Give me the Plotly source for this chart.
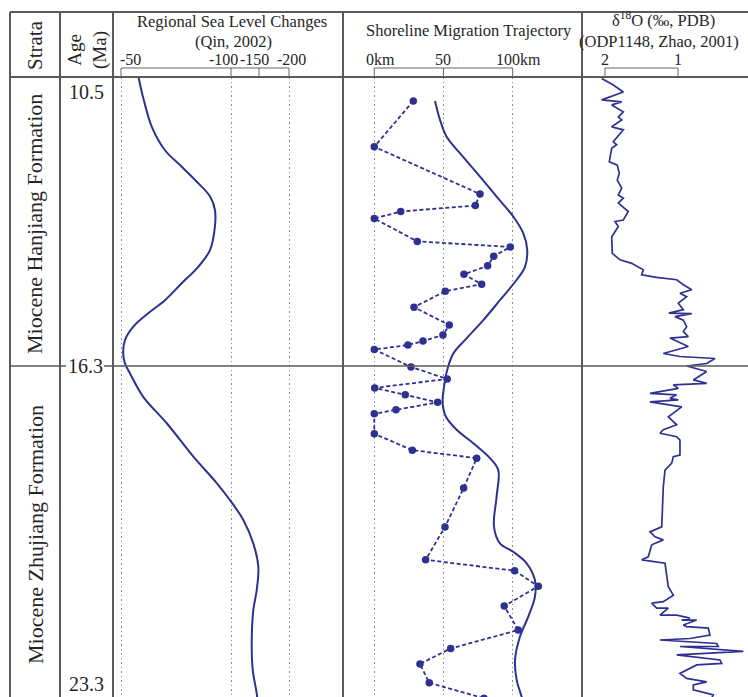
import numpy as np
import plotly.graph_objects as go

W, H = 748, 697
BLUE = "#2e3192"
FRAME = "#5a5a5a"
TXT = "#262626"
FONT = "Liberation Serif, Times New Roman, serif"

# ---------------- data ----------------
# Regional sea level (m) vs age (Ma)
sea_age = [10.51, 10.90, 11.50, 11.97, 12.30, 12.63, 12.90, 13.17, 13.50, 13.97, 14.31,
           14.64, 14.98, 15.24, 15.51, 15.78, 16.05, 16.25, 16.45, 16.92, 17.45, 18.12,
           18.65, 18.99, 19.39, 19.86, 20.33, 20.80, 21.20, 21.87, 22.40, 22.87, 23.10]
sea_level = [-58, -60, -64, -70, -77.6, -85.1, -90.5, -92.7, -92.7, -90.5, -85.1,
             -77.6, -70, -62.4, -55.6, -51.8, -51.0, -51.8, -54.1, -60.1, -70.8, -82.9,
             -93.5, -99.5, -122, -139.8, -148.8, -145.9, -139.8, -137.0, -138.8, -145.9, -148]
# non-linear sea-level axis: tick values and their relative positions
sl_ticks = [-50, -100, -150, -200]
sl_tick_pos = [0, 110, 138, 168]

# Shoreline migration trajectory (km) vs age
shore_age = [10.98, 11.90, 12.85, 13.08, 13.20, 13.34, 13.80, 13.91, 14.10, 14.29,
             14.46, 14.66, 14.80, 15.12, 15.48, 15.68, 15.80, 15.88, 15.97, 16.32,
             16.56, 16.74, 16.88, 17.03, 17.18, 17.26, 17.66, 17.99, 18.15, 18.75,
             19.53, 20.19, 20.41, 20.72, 21.12, 21.60, 21.97, 22.28, 22.66, 22.97]
shore_km = [28.2, 0, 76.4, 73.0, 19.1, 0, 31.1, 98.3, 86.3, 81.9,
            64.8, 77.6, 51.3, 28.7, 54.2, 49.6, 35.2, 24.3, 0, 26.5,
            52.7, 0.3, 22.4, 45.8, 15.7, 0, 0, 27.5, 74.0, 64.6,
            51.1, 37.1, 101.4, 118.5, 93.9, 104.0, 55.2, 33.0, 39.7, 79.3]
trend_age = [10.98, 11.36, 11.70, 12.03, 12.50, 12.90, 13.30, 13.64, 13.97, 14.31,
             14.57, 14.98, 15.38, 15.78, 16.05, 16.38, 16.72, 17.05, 17.32, 17.58,
             17.85, 18.15, 18.39, 18.92, 19.53, 19.86, 20.03, 20.26, 20.60, 20.93,
             21.33, 21.73, 22.20, 22.60, 22.94, 23.10]
trend_km = [43.9, 47.5, 52.3, 61.9, 76.4, 88.4, 100.4, 107.7, 110.5, 108.9,
            102.9, 90.8, 78.8, 65.5, 57.1, 52.7, 50.4, 49.4, 51.8, 59.5,
            71.5, 83.6, 89.6, 88.4, 86.5, 90.8, 100.4, 110.1, 116.1, 116.1,
            111.3, 105.3, 101.7, 102.9, 106.5, 108]
shore_ticks = [0, 50, 100]
shore_labels = ["0km", "50", "100km"]

# delta 18O (permil PDB) vs age
d18o_age = [10.53, 10.66, 10.80, 10.86, 10.96, 11.00, 11.06, 11.20, 11.30, 11.36,
            11.50, 11.56, 11.80, 11.86, 11.93, 12.20, 12.27, 12.43, 12.57, 12.73,
            12.87, 12.93, 13.03, 13.20, 13.37, 13.40, 13.50, 13.71, 14.04, 14.17,
            14.24, 14.37, 14.47, 14.52, 14.57, 14.67, 14.77, 14.84, 14.91, 15.04,
            15.17, 15.24, 15.25, 15.31, 15.38, 15.51, 15.61, 15.71, 15.74, 15.91,
            16.05, 16.11, 16.15, 16.25, 16.30, 16.41, 16.58, 16.65, 16.68, 16.75,
            16.85, 16.88, 16.95, 16.98, 17.02, 17.12, 17.32, 17.48, 17.58, 17.65,
            17.72, 17.79, 18.09, 18.12, 18.25, 18.39, 18.72, 19.53, 19.63, 19.73,
            19.79, 19.89, 20.13, 20.19, 20.26, 20.73, 20.90, 21.03, 21.06, 21.16,
            21.16, 21.30, 21.30, 21.36, 21.40, 21.40, 21.50, 21.53, 21.56, 21.70,
            21.77, 21.80, 21.87, 21.93, 21.93, 22.03, 22.10, 22.20, 22.27, 22.30,
            22.47, 22.57, 22.64, 22.70, 22.80, 22.90, 23.00]
d18o = [2.045, 1.886, 1.749, 1.863, 2.045, 1.771, 1.908, 1.749, 1.818, 1.771,
        1.908, 1.749, 1.886, 1.840, 1.908, 1.941, 1.832, 1.804, 1.832, 1.771,
        1.818, 1.749, 1.818, 1.681, 1.749, 1.863, 1.818, 1.908, 1.900, 1.795,
        1.634, 1.475, 1.497, 1.292, 1.018, 0.927, 0.812, 0.973, 0.881, 0.996,
        0.927, 1.125, 0.812, 1.041, 0.927, 0.881, 0.927, 0.859, 1.110, 0.859,
        1.201, 0.973, 0.493, 0.607, 0.881, 0.607, 0.790, 0.607, 1.064, 0.996,
        1.384, 1.018, 1.110, 0.996, 1.384, 0.949, 1.133, 1.018, 1.201, 1.247,
        1.018, 0.973, 0.973, 1.064, 1.086, 1.178, 1.201, 1.223, 1.384, 1.315,
        1.201, 1.360, 1.407, 1.497, 1.178, 1.133, 1.064, 1.201, 1.360, 1.292,
        1.133, 1.247, 1.018, 0.836, 0.949, 0.744, 0.927, 0.881, 0.585, 0.562,
        0.836, 1.247, 0.470, 0.448, 0.973, 0.105, 1.018, 0.425, 0.401, 0.744,
        0.973, 0.881, 0.607, 0.790, 0.790, 0.516, 0.55]
d18o_ticks = [2, 1]

age_labels = ["10.5", "16.3", "23.3"]
boundary_age = 16.3

# ---------------- figure ----------------
sea_pos = np.interp(-np.array(sea_level), [-t for t in sl_ticks], sl_tick_pos)

fig = go.Figure()
fig.add_trace(go.Scatter(x=sea_pos, y=sea_age, mode="lines", xaxis="x", yaxis="y",
                         line=dict(color=BLUE, width=2, shape="spline", smoothing=1.0),
                         showlegend=False, hoverinfo="skip"))
fig.add_trace(go.Scatter(x=trend_km, y=trend_age, mode="lines", xaxis="x2", yaxis="y",
                         line=dict(color=BLUE, width=2, shape="spline", smoothing=1.0),
                         showlegend=False, hoverinfo="skip"))
fig.add_trace(go.Scatter(x=shore_km, y=shore_age, mode="lines+markers", xaxis="x2", yaxis="y",
                         line=dict(color=BLUE, width=1.8, dash="4px,2.5px"),
                         marker=dict(color=BLUE, size=7.5),
                         showlegend=False, hoverinfo="skip"))
fig.add_trace(go.Scatter(x=d18o, y=d18o_age, mode="lines", xaxis="x3", yaxis="y",
                         line=dict(color=BLUE, width=1.7),
                         showlegend=False, hoverinfo="skip"))


def px(x):
    return x / W


def py(y):
    return 1 - y / H


top_plot = 77
grid = dict(showgrid=True, griddash="1.5px,3px", gridcolor="#8a8a8a", gridwidth=1,
            showticklabels=False, ticks="", zeroline=False, showline=False, fixedrange=True)

fig.update_layout(
    width=W, height=H, margin=dict(l=0, r=0, t=0, b=0),
    paper_bgcolor="white", plot_bgcolor="white",
    xaxis=dict(domain=[px(113), px(343)], range=[-8, 222], tickvals=sl_tick_pos[:2] + sl_tick_pos[3:],
               anchor="y", **grid),
    xaxis2=dict(domain=[px(343), px(582)], range=[-22.6, 150.1], tickvals=shore_ticks,
                anchor="y", **grid),
    xaxis3=dict(domain=[px(582), 1], range=[2.315, 0.041], anchor="y",
                showgrid=False, showticklabels=False, ticks="", zeroline=False, showline=False),
    yaxis=dict(domain=[0, py(top_plot)], range=[22.944, 10.5], visible=False,
               showgrid=False, zeroline=False),
)

shapes = []


def line(x0, y0, x1, y1, w=2, color=FRAME, xref="paper", yref="paper"):
    shapes.append(dict(type="line", x0=x0, y0=y0, x1=x1, y1=y1, xref=xref, yref=yref,
                       line=dict(color=color, width=w), layer="above"))


# frame
line(px(10), py(12), 1, py(12))
line(px(10), py(77), 1, py(77))
for xv in [10, 60, 113, 343, 582]:
    line(px(xv), py(12), px(xv), 0)
# formation boundary (with gap for label)
line(px(10), boundary_age, px(66), boundary_age, w=1.6, yref="y")
line(px(104), boundary_age, 1, boundary_age, w=1.6, yref="y")

# axis brackets
br_y, tk_y = py(68), py(76)
for xr, vals in [("x", [sl_tick_pos[0], sl_tick_pos[-1]]), ("x2", [shore_ticks[0], shore_ticks[-1]]),
                 ("x3", d18o_ticks)]:
    line(vals[0], br_y, vals[1], br_y, w=1, color="#666", xref=xr)
for xr, vals in [("x", sl_tick_pos), ("x2", shore_ticks), ("x3", d18o_ticks)]:
    for v in vals:
        line(v, br_y, v, tk_y, w=1, color="#666", xref=xr)

fig.update_layout(shapes=shapes)

ann = []


def text(t, x, y, size, angle=0, xref="paper", xanchor="center", xshift=0, yref="paper"):
    ann.append(dict(text=t, x=x, y=y, xref=xref, yref=yref, showarrow=False,
                    font=dict(family=FONT, size=size, color=TXT), textangle=angle,
                    xanchor=xanchor, yanchor="middle", xshift=xshift))


# header
text("Strata", px(35), py(45), 21, angle=-90)
text("Age<br>(Ma)", px(87), py(50), 19, angle=-90)
text("Regional Sea Level Changes", px(232), py(21), 16.5)
text("(Qin, 2002)", px(233), py(41), 16.5)
text("Shoreline Migration Trajectory", px(469), py(31), 16.5)
text("δ<sup>18</sup>O (‰, PDB)", px(663), py(20), 16.5)
text("(ODP1148, Zhao, 2001)", px(577), py(41), 16.5, xanchor="left")

# tick labels
sl_shift = [-3, -8, -5, 2]
for v, p, s in zip(sl_ticks, sl_tick_pos, sl_shift):
    text(str(v), p, py(59), 16, xref="x", xanchor="left" if v == -50 else "center", xshift=s)
for v, lab, s in zip(shore_ticks, shore_labels, [6, 0, 6]):
    text(lab, v, py(59), 16, xref="x2", xshift=s)
for v in d18o_ticks:
    text(str(v), v, py(59), 16, xref="x3")

# strata and ages
text("Miocene Hanjiang Formation", px(35), py(224), 22, angle=-90)
text("Miocene Zhujiang Formation", px(35), py(535), 22, angle=-90)
text(age_labels[0], px(86), py(92), 20)
text(age_labels[1], px(85), boundary_age, 20, yref="y")
text(age_labels[2], px(86), py(684), 20)

fig.update_layout(annotations=ann)
fig.write_html("out.html")
